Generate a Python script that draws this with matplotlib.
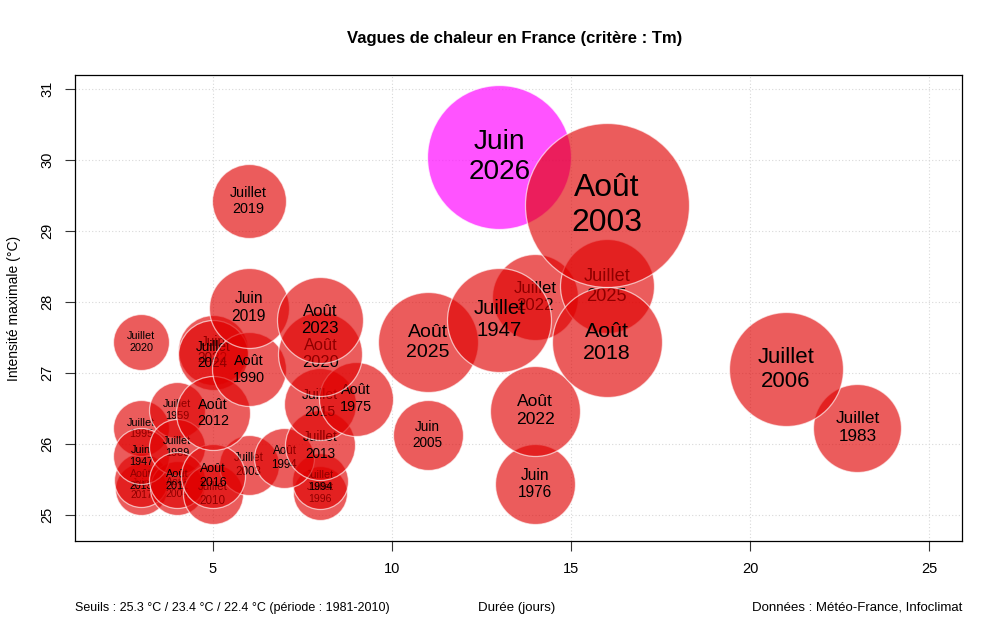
import numpy as np
import matplotlib.pyplot as plt

plt.rcParams['font.family'] = ['Liberation Sans', 'DejaVu Sans']

# vagues de chaleur : mois, année, durée (jours), intensité max (°C), taille relative
mois = ["Juillet", "Juillet", "Juin", "Août", "Juin",
        "Juillet", "Juillet", "Août", "Août",
        "Juin", "Juillet", "Août", "Août", "Juillet",
        "Juillet", "Juin", "Août", "Juillet",
        "Août",
        "Août", "Août", "Juillet", "Juillet", "Juillet", "Juillet",
        "Août",
        "Août", "Juin",
        "Juillet", "Juin",
        "Juillet", "Août", "Juin",
        "Août", "Juillet", "Août",
        "Juillet", "Juillet"]
annees = [2020, 1995, 1947, 2013, 2017,
          1959, 1989, 2011, 2004,
          2022, 2024, 2012, 2016, 2010,
          2019, 2019, 1990, 2003,
          1994,
          2023, 2020, 2015, 2013, 1994, 1996,
          1975,
          2025, 2005,
          1947, 2026,
          2022, 2022, 1976,
          2003, 2025, 2018,
          2006, 1983]
duree = [3, 3, 3, 3, 3,
         4, 4, 4, 4,
         5, 5, 5, 5, 5,
         6, 6, 6, 6,
         7,
         8, 8, 8, 8, 8, 8,
         9,
         11, 11,
         13, 13,
         14, 14, 14,
         16, 16, 16,
         21, 23]
intensite = [27.44, 26.22, 25.83, 25.49, 25.37,
             26.48, 25.96, 25.49, 25.38,
             27.32, 27.25, 26.44, 25.55, 25.30,
             29.42, 27.92, 27.05, 25.70,
             25.80,
             27.75, 27.27, 26.57, 25.98, 25.48, 25.31,
             26.64,
             27.43, 26.13,
             27.75, 30.04,
             28.07, 26.47, 25.44,
             29.36, 28.22, 27.43,
             27.05, 26.23]
taille = [28, 28, 28, 27, 26,
          28, 28, 28, 27,
          35, 35, 37, 32, 30,
          37, 40, 37, 30,
          30,
          43, 42, 36, 35, 28, 27,
          37,
          50, 35,
          52, 72,
          43, 45, 40,
          82, 47, 55,
          57, 44]

ROUGE = '#e00000'
MAGENTA = '#ff10ff'

fig = plt.figure(figsize=(10, 6.35), dpi=100)
ax = fig.add_axes([0.075, 0.148, 0.887, 0.734])

# petites bulles d'abord, les grandes par-dessus
ordre = sorted(range(len(taille)), key=lambda i: taille[i])
for z, i in enumerate(ordre):
    r_pt = taille[i] * 0.72
    couleur = MAGENTA if annees[i] == 2026 else ROUGE
    alpha = 0.72 if annees[i] == 2026 else 0.64
    ax.scatter(duree[i], intensite[i], s=(2 * r_pt) ** 2, color=couleur,
               alpha=alpha, edgecolors='white', linewidths=0.9,
               zorder=3 + 2 * z)
    ax.text(duree[i], intensite[i], f"{mois[i]}\n{annees[i]}",
            ha='center', va='center', fontsize=taille[i] * 0.28,
            linespacing=1.2, color='black', zorder=4 + 2 * z)

ax.set_xlim(1.15, 25.92)
ax.set_ylim(24.634, 31.197)
ax.set_xticks([5, 10, 15, 20, 25])
ax.set_yticks([25, 26, 27, 28, 29, 30, 31])
ax.grid(True, linestyle=(0, (1, 2)), color='#d8d8d8', linewidth=0.8, zorder=0)
ax.set_axisbelow(True)
ax.tick_params(axis='both', length=7, width=0.8, color='#333333',
               labelsize=10.5, pad=8)
for lab in ax.get_yticklabels():
    lab.set_rotation(90)
    lab.set_va('center')
for sp in ax.spines.values():
    sp.set_linewidth(0.9)

ax.set_ylabel("Intensité maximale (°C)", fontsize=10, labelpad=14)
fig.text(0.515, 0.94, "Vagues de chaleur en France (critère : Tm)",
         ha='center', va='center', fontsize=12, fontweight='bold')
fig.text(0.075, 0.043, "Seuils : 25.3 °C / 23.4 °C / 22.4 °C (période : 1981-2010)",
         ha='left', va='center', fontsize=9)
fig.text(0.517, 0.043, "Durée (jours)", ha='center', va='center', fontsize=9.5)
fig.text(0.962, 0.043, "Données : Météo-France, Infoclimat",
         ha='right', va='center', fontsize=9.5)

fig.savefig("out.png", dpi=100)
